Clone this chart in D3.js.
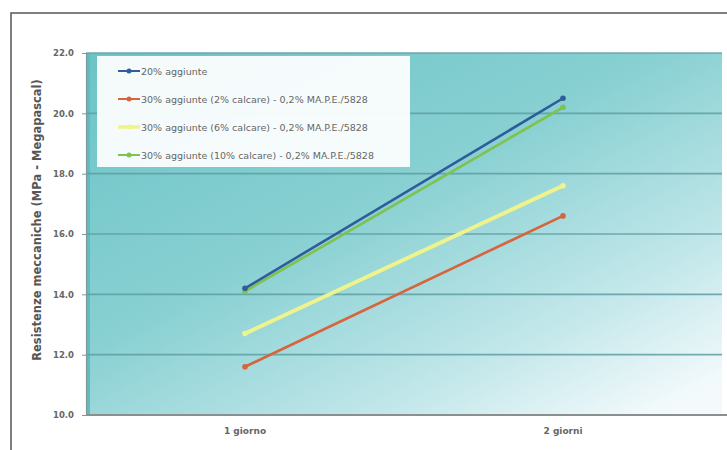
<!DOCTYPE html>
<html>
<head>
<meta charset="utf-8">
<script src="https://cdn.jsdelivr.net/npm/d3@7"></script>
<style>
  html, body { margin: 0; padding: 0; background: #ffffff; }
  svg { display: block; }
  text { font-family: "DejaVu Sans", Verdana, sans-serif; }
</style>
</head>
<body>
<svg id="chart" width="727" height="450"></svg>
<script>
// Categories and series (MPa)
const categories = ["1 giorno", "2 giorni"];
const seriesNames = [
  "20% aggiunte",
  "30% aggiunte (2% calcare) - 0,2% MA.P.E./5828",
  "30% aggiunte (6% calcare) - 0,2% MA.P.E./5828",
  "30% aggiunte (10% calcare) - 0,2% MA.P.E./5828"
];
const seriesValues = [
  [14.2, 20.5],
  [11.6, 16.6],
  [12.7, 17.6],
  [14.1, 20.2]
];
const seriesColors = ["#2f5d9c", "#d6643c", "#eef38c", "#7fc24f"];
const yTicks = [10, 12, 14, 16, 18, 20, 22];
const yTitle = "Resistenze meccaniche (MPa - Megapascal)";

const svg = d3.select("#chart");
const plot = { left: 86, right: 722, top: 53, bottom: 415 };

const x = d3.scaleBand().domain(categories).range([plot.left, plot.right]);
const y = d3.scaleLinear().domain([10, 22]).range([plot.bottom, plot.top]);

// Background gradient of the plot area
const defs = svg.append("defs");
const grad = defs.append("linearGradient")
  .attr("id", "bg").attr("x1", "0").attr("y1", "0").attr("x2", "0.9").attr("y2", "1");
grad.append("stop").attr("offset", "0").attr("stop-color", "#6cc4c7");
grad.append("stop").attr("offset", "0.45").attr("stop-color", "#88d0d2");
grad.append("stop").attr("offset", "0.78").attr("stop-color", "#c2e7ea");
grad.append("stop").attr("offset", "1").attr("stop-color", "#f4fafc");

// Outer frame
svg.append("rect")
  .attr("x", 11).attr("y", 13).attr("width", 740).attr("height", 460)
  .attr("fill", "#ffffff").attr("stroke", "#555555").attr("stroke-width", 1.5);

svg.append("rect")
  .attr("x", plot.left).attr("y", plot.top)
  .attr("width", plot.right - plot.left).attr("height", plot.bottom - plot.top)
  .attr("fill", "url(#bg)");

// Left band of the plot area
svg.append("rect")
  .attr("x", plot.left).attr("y", plot.top)
  .attr("width", 4).attr("height", plot.bottom - plot.top)
  .attr("fill", "#5fbcbf");

// Horizontal gridlines
svg.append("g")
  .selectAll("line")
  .data(yTicks.filter(d => d > 10))
  .join("line")
  .attr("x1", plot.left).attr("x2", plot.right)
  .attr("y1", d => y(d)).attr("y2", d => y(d))
  .attr("stroke", "#5e9ea3").attr("stroke-width", 1.6).attr("stroke-opacity", 0.85);

// Bottom axis line
svg.append("line")
  .attr("x1", plot.left).attr("x2", plot.right + 10)
  .attr("y1", plot.bottom).attr("y2", plot.bottom)
  .attr("stroke", "#8a8f90").attr("stroke-width", 1.8);

// Y axis
const yAxis = d3.axisLeft(y).tickValues(yTicks).tickFormat(d3.format(".1f")).tickSize(4).tickPadding(8);
const gy = svg.append("g").attr("transform", `translate(${plot.left},0)`).call(yAxis);
gy.select(".domain").attr("stroke", "#7f9c9e").attr("stroke-width", 1.2);
gy.selectAll(".tick line").attr("stroke", "#7f9c9e");
gy.selectAll(".tick text").attr("fill", "#666").attr("font-size", 8.5).attr("font-weight", "bold")
  .attr("font-family", "DejaVu Sans");

// X axis labels
const xAxis = d3.axisBottom(x).tickSize(0).tickPadding(13);
const gx = svg.append("g").attr("transform", `translate(0,${plot.bottom})`).call(xAxis);
gx.select(".domain").remove();
gx.selectAll(".tick text").attr("fill", "#666").attr("font-size", 9).attr("font-weight", "bold")
  .attr("font-family", "DejaVu Sans");

// Y title
svg.append("text")
  .attr("transform", `translate(41,220) rotate(-90)`)
  .attr("text-anchor", "middle")
  .attr("font-size", 11.5).attr("font-weight", "bold").attr("fill", "#555")
  .text(yTitle);

// Series lines and markers
const line = d3.line()
  .x((d, i) => x(categories[i]) + x.bandwidth() / 2)
  .y(d => y(d));

const order = [2, 1, 3, 0];
order.forEach(si => {
  const vals = seriesValues[si];
  svg.append("path")
    .datum(vals)
    .attr("fill", "none")
    .attr("stroke", seriesColors[si])
    .attr("stroke-width", si === 2 ? 4 : 2.6)
    .attr("stroke-linecap", "round")
    .attr("d", line);
  svg.append("g").selectAll("circle")
    .data(vals)
    .join("circle")
    .attr("cx", (d, i) => x(categories[i]) + x.bandwidth() / 2)
    .attr("cy", d => y(d))
    .attr("r", 2.8)
    .attr("fill", seriesColors[si]);
});

// Legend
const lg = svg.append("g");
lg.append("rect")
  .attr("x", 97).attr("y", 56).attr("width", 313).attr("height", 111)
  .attr("fill", "#ffffff").attr("fill-opacity", 0.93);
const rowY = [71, 99, 127, 155];
seriesNames.forEach((name, i) => {
  const g = lg.append("g").attr("transform", `translate(0,${rowY[i]})`);
  g.append("line").attr("x1", 118).attr("x2", 140).attr("y1", 0).attr("y2", 0)
    .attr("stroke", seriesColors[i]).attr("stroke-width", i === 2 ? 3.5 : 2);
  g.append("circle").attr("cx", 129).attr("cy", 0).attr("r", 2.5).attr("fill", seriesColors[i]);
  g.append("text").attr("x", 141).attr("y", 3.5)
    .attr("font-size", 9.5).attr("fill", "#666").text(name);
});
</script>
</body>
</html>
